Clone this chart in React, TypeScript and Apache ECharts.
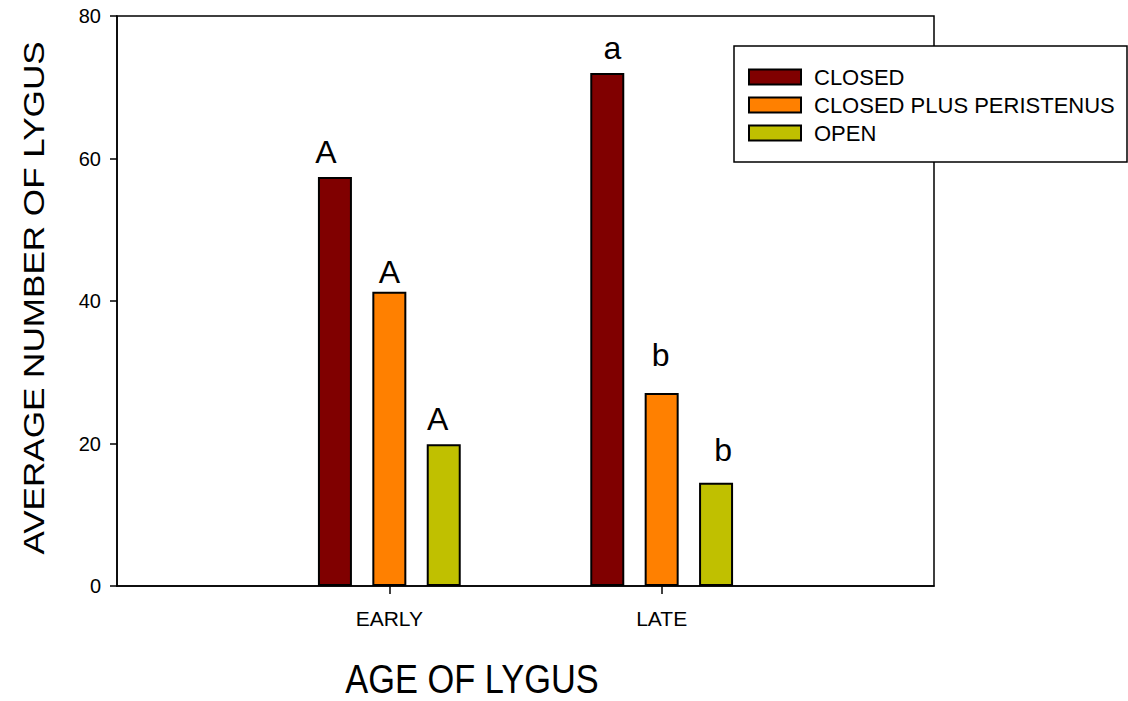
import React, { useEffect, useRef } from "react";
import * as echarts from "echarts";

const categories = ["EARLY", "LATE"];
const seriesNames = ["CLOSED", "CLOSED PLUS PERISTENUS", "OPEN"];
const closedValues = [57.4, 72.0];
const closedPlusValues = [41.3, 27.1];
const openValues = [19.9, 14.5];
const closedLetters = ["A", "a"];
const closedPlusLetters = ["A", "b"];
const openLetters = ["A", "b"];
const yMin = 0;
const yMax = 80;
const yStep = 20;

const colors = ["#800000", "#FF8000", "#C0C000"];
// label offsets (style only)
const closedOffsets = [[-9, -9.5], [5, -9.5]];
const closedPlusOffsets = [[0, -3.5], [-1, -21.5]];
const openOffsets = [[-6, -9.5], [7, -16.5]];

const FONT = "'Liberation Sans', Arial, Helvetica, sans-serif";

function makeSeries(name: string, values: number[], letters: string[], offsets: number[][], color: string) {
  const data: any[] = ["-"];
  values.forEach((v, i) => {
    data.push({ value: v, label: { offset: offsets[i] } });
  });
  data.push("-");
  return {
    name,
    type: "bar",
    barWidth: 34,
    barGap: "60%",
    itemStyle: { color, borderColor: "#000", borderWidth: 2 },
    label: {
      show: true,
      position: "top",
      distance: 0,
      fontSize: 32,
      fontFamily: FONT,
      color: "#000",
      formatter: (p: any) => letters[p.dataIndex - 1] ?? "",
    },
    data,
  };
}

export default function App() {
  const ref = useRef<HTMLDivElement>(null);
  useEffect(() => {
    if (!ref.current) return;
    const chart = echarts.init(ref.current, undefined, { renderer: "svg" });
    const axisData = ["", ...categories, ""];
    const showIdx = (i: number) => i > 0 && i < axisData.length - 1;
    chart.setOption({
      animation: false,
      backgroundColor: "#fff",
      grid: {
        left: 117,
        top: 16,
        width: 817,
        height: 570,
        show: true,
        borderColor: "#000",
        borderWidth: 1.5,
        backgroundColor: "transparent",
      },
      xAxis: {
        type: "category",
        data: axisData,
        boundaryGap: false,
        axisLine: { lineStyle: { color: "#000", width: 1.5 } },
        axisTick: { show: true, length: 8, interval: (i: number) => showIdx(i), lineStyle: { color: "#000", width: 1.5 } },
        axisLabel: { interval: (i: number) => showIdx(i), fontSize: 21, fontFamily: FONT, color: "#000", margin: 22 },
        splitLine: { show: false },
      },
      yAxis: {
        type: "value",
        min: yMin,
        max: yMax,
        interval: yStep,
        axisLine: { show: true, lineStyle: { color: "#000", width: 1.5 } },
        axisTick: { show: true, length: 7, lineStyle: { color: "#000", width: 1.5 } },
        axisLabel: { fontSize: 20, fontFamily: FONT, color: "#000", margin: 16 },
        splitLine: { show: false },
      },
      legend: {
        data: seriesNames,
        orient: "vertical",
        left: 748,
        top: 66,
        padding: 0,
        itemWidth: 52,
        itemHeight: 15,
        itemGap: 6,
        z: 5,
        icon: "rect",
        itemStyle: { borderColor: "#000", borderWidth: 2 },
        textStyle: { fontSize: 22, fontFamily: FONT, color: "#000", padding: [0, 0, 0, 8], lineHeight: 20 },
      },
      graphic: [
        {
          type: "rect",
          z: 3,
          shape: { x: 734, y: 46, width: 393, height: 116 },
          style: { fill: "#fff", stroke: "#000", lineWidth: 1.5 },
        },
        {
          type: "text",
          x: 472,
          y: 679,
          scaleX: 0.86,
          style: {
            text: "AGE OF LYGUS",
            fontSize: 40,
            fontFamily: FONT,
            fill: "#000",
            align: "center",
            verticalAlign: "middle",
            textAlign: "center",
            textVerticalAlign: "middle",
          },
        },
        {
          type: "text",
          x: 33,
          y: 298,
          rotation: Math.PI / 2,
          scaleX: 1.17,
          style: {
            text: "AVERAGE NUMBER OF LYGUS",
            fontSize: 30,
            fontFamily: FONT,
            fill: "#000",
            align: "center",
            verticalAlign: "middle",
            textAlign: "center",
            textVerticalAlign: "middle",
          },
        },
      ],
      series: [
        makeSeries(seriesNames[0], closedValues, closedLetters, closedOffsets, colors[0]),
        makeSeries(seriesNames[1], closedPlusValues, closedPlusLetters, closedPlusOffsets, colors[1]),
        makeSeries(seriesNames[2], openValues, openLetters, openOffsets, colors[2]),
      ],
    });
    return () => chart.dispose();
  }, []);
  return <div ref={ref} style={{ position: "fixed", left: 0, top: 0, width: 1128, height: 701 }} />;
}
